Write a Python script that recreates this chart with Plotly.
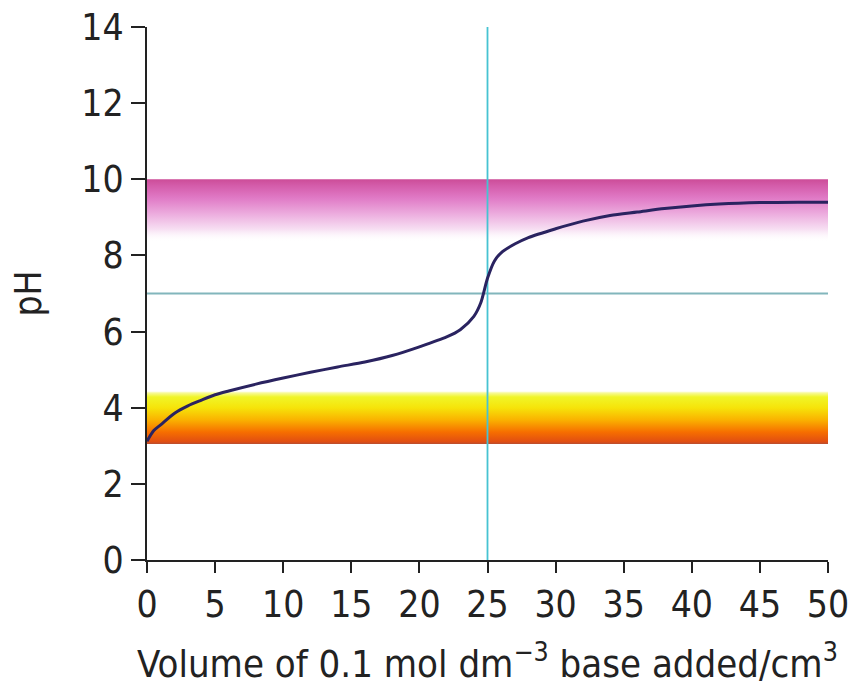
import plotly.graph_objects as go

# ---- data ----
volume = [0, 0.5, 1, 2, 3, 4, 5, 6, 8, 10, 12, 14, 16, 18, 20, 22, 23, 24, 24.5,
          25, 25.5, 26, 27, 28, 30, 32, 34, 36, 38, 40, 42, 45, 48, 50]
ph = [3.12, 3.4, 3.55, 3.85, 4.05, 4.2, 4.34, 4.44, 4.62, 4.78, 4.93, 5.07, 5.2,
      5.37, 5.6, 5.86, 6.05, 6.4, 6.75, 7.4, 7.85, 8.07, 8.3, 8.47, 8.7, 8.9,
      9.05, 9.14, 9.23, 9.3, 9.35, 9.39, 9.4, 9.4]

acid_indicator_range = [3.05, 4.45]    # yellow/orange band
base_indicator_range = [8.35, 10.0]    # pink band
equivalence_volume = 25
neutral_ph = 7
x_range = [0, 50]
y_range = [0, 14]
x_ticks = [0, 5, 10, 15, 20, 25, 30, 35, 40, 45, 50]
y_ticks = [0, 2, 4, 6, 8, 10, 12, 14]

FONT = "DejaVu Sans Condensed, Liberation Sans Narrow, Arial Narrow, Liberation Sans, Arial, sans-serif"
INK = "#222222"

fig = go.Figure()


def band(rng, colorscale):
    lo, hi = rng
    fig.add_trace(go.Scatter(
        x=[x_range[0], x_range[1], x_range[1], x_range[0], x_range[0]],
        y=[lo, lo, hi, hi, lo],
        mode="lines", line=dict(width=0), fill="toself",
        fillgradient=dict(type="vertical", colorscale=colorscale, start=lo, stop=hi),
        hoverinfo="skip", showlegend=False))


band(base_indicator_range, [
    [0.0, "rgba(255,255,255,0)"],
    [0.2, "rgb(247,224,243)"],
    [0.45, "rgb(236,172,222)"],
    [0.7, "rgb(224,122,198)"],
    [0.9, "rgb(212,92,170)"],
    [1.0, "rgb(204,76,152)"],
])
band(acid_indicator_range, [
    [0.0, "rgb(185,78,48)"],
    [0.04, "rgb(225,78,18)"],
    [0.22, "rgb(246,110,0)"],
    [0.45, "rgb(250,178,0)"],
    [0.68, "rgb(246,228,10)"],
    [0.88, "rgb(240,245,40)"],
    [0.96, "rgb(248,250,160)"],
    [1.0, "rgba(255,255,255,0)"],
])

# reference lines
fig.add_trace(go.Scatter(x=x_range, y=[neutral_ph, neutral_ph], mode="lines",
                         line=dict(color="rgb(130,182,188)", width=1.8),
                         hoverinfo="skip", showlegend=False))
fig.add_trace(go.Scatter(x=[equivalence_volume, equivalence_volume], y=y_range, mode="lines",
                         line=dict(color="rgb(70,195,210)", width=1.8),
                         hoverinfo="skip", showlegend=False))

# titration curve
fig.add_trace(go.Scatter(x=volume, y=ph, mode="lines",
                         line=dict(color="#2a2360", width=3, shape="spline", smoothing=0.8),
                         showlegend=False))

axis_common = dict(showgrid=False, zeroline=False, automargin=False,
                   ticklabeloverflow="allow",
                   tickfont=dict(family=FONT, size=37, color=INK),
                   tickcolor=INK, tickwidth=2)

fig.update_layout(
    width=854, height=690,
    margin=dict(l=147, r=26, t=27, b=130),
    paper_bgcolor="white", plot_bgcolor="white",
    font=dict(family=FONT, color=INK),
    xaxis=dict(range=x_range, tickvals=x_ticks, ticks="outside", ticklen=11,
               showline=True, linecolor=INK, linewidth=2,
               title=dict(text="Volume of 0.1 mol dm<sup>−3</sup> base added/cm<sup>3</sup>",
                          font=dict(family=FONT, size=38, color=INK), standoff=25),
               **axis_common),
    yaxis=dict(range=y_range, tickvals=y_ticks, ticks="outside", ticklen=14,
               showline=True, linecolor=INK, linewidth=2,
               title=dict(text="pH", font=dict(family=FONT, size=37, color=INK), standoff=28),
               **axis_common),
    xaxis2=dict(range=x_range, tickvals=x_ticks, ticks="inside", ticklen=4, overlaying="x",
                anchor="y", side="bottom", showticklabels=False, showline=False,
                showgrid=False, zeroline=False, tickcolor=INK, tickwidth=2),
    yaxis2=dict(range=y_range, tickvals=y_ticks, ticks="inside", ticklen=16, overlaying="y",
                anchor="x", side="left", showticklabels=False, showline=False,
                showgrid=False, zeroline=False, tickcolor=INK, tickwidth=2),
)

# remove the browser's default 8px body margin so the figure fills the window
fig.write_html("out.html",
               config={"displayModeBar": False},
               post_script="document.body.style.margin='0';document.body.style.overflow='hidden';")
